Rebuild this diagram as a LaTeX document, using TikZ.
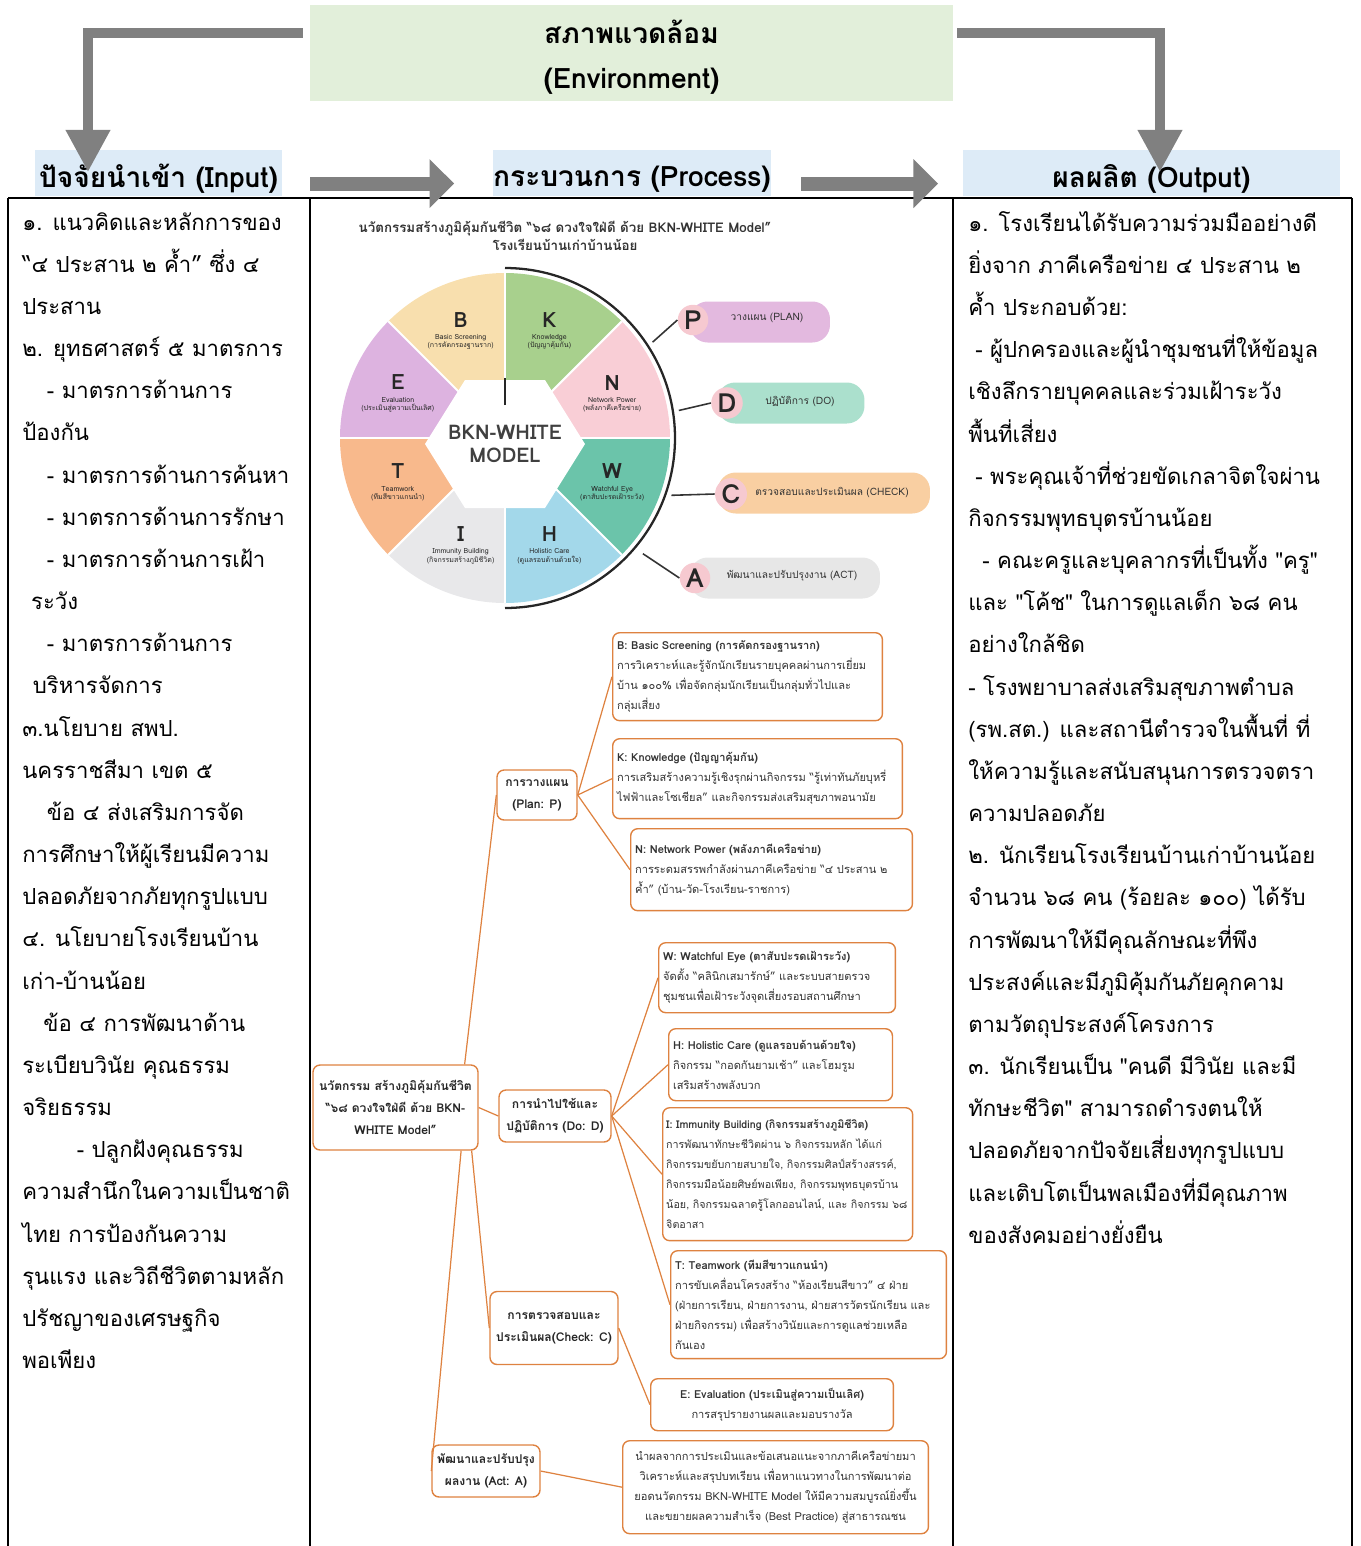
\documentclass[tikz,border=0pt]{standalone}
\usepackage{fontspec}
\setmainfont{Loma}[Script=Thai,Ligatures=TeXOff]
\usetikzlibrary{arrows.meta,calc}

\definecolor{envgreen}{HTML}{E2EFDA}
\definecolor{headblue}{HTML}{DDEBF7}
\definecolor{flowgray}{HTML}{808080}
\definecolor{maporange}{HTML}{DE8240}
\definecolor{segB}{HTML}{F8DFAE}
\definecolor{segK}{HTML}{A8D08D}
\definecolor{segN}{HTML}{F9CED6}
\definecolor{segW}{HTML}{6BC4AA}
\definecolor{segH}{HTML}{A3D8EA}
\definecolor{segI}{HTML}{E8E8EA}
\definecolor{segT}{HTML}{F8B98C}
\definecolor{segE}{HTML}{DDB3E0}
\definecolor{pillP}{HTML}{E3B9DF}
\definecolor{pillD}{HTML}{ABE0CD}
\definecolor{pillC}{HTML}{F9CFA2}
\definecolor{pillA}{HTML}{E7E7E7}
\definecolor{dotpink}{HTML}{F6C9D0}

\newcommand{\lowered}[1]{\raisebox{-3.5pt}[\height][\depth]{#1}}

\begin{document}
\begin{tikzpicture}[x=0.02cm,y=-0.02cm,
  bigarrow/.style={flowgray,line width=5.7pt,-{Triangle[length=24pt,width=24pt]}},
  flowarrow/.style={flowgray,line width=8pt,-{Triangle[length=14pt,width=27pt]}},
  headbox/.style={fill=headblue,inner sep=0pt,minimum height=0.92cm,font=\fontsize{16}{18}\selectfont\bfseries},
  coltext/.style={anchor=north west,align=left,inner sep=0pt,font=\fontsize{12.6}{24}\selectfont},
  mapbox/.style={draw=maporange,line width=0.8pt,rounded corners=4pt,fill=white,anchor=north west,align=left,inner xsep=2.5pt,inner ysep=3pt,font=\fontsize{6.3}{11.4}\selectfont,text=black!80},
  branch/.style={draw=maporange,line width=0.8pt,rounded corners=4pt,fill=white,align=center,inner sep=2pt,font=\fontsize{6.9}{12.5}\selectfont\bfseries,text=black!85},
  mapedge/.style={maporange,line width=0.7pt},
  pill/.style={rounded corners=10pt,minimum height=0.82cm,inner sep=0pt},
  pdca/.style={circle,fill=dotpink,inner sep=1pt,minimum size=0.5cm,font=\fontsize{15}{15}\selectfont\bfseries,text=black!85},
  pilltext/.style={inner sep=0pt,font=\fontsize{5.8}{7}\selectfont,text=black!80},
  segtext/.style={align=center,inner sep=0pt,font=\fontsize{4}{4.6}\selectfont,text=black!85}
]

\useasboundingbox (0,0) rectangle (1360,1546);

% Environment
\node[fill=envgreen,minimum width=12.86cm,minimum height=1.92cm] (env) at (631.5,53) {};
\node[align=center,font=\fontsize{16}{25.5}\selectfont\bfseries] (envtext) at ([yshift=-2.5pt]env.center) {สภาพแวดล้อม\\(Environment)};

% Headers
\node[headbox,minimum width=4.94cm] (inhead) at (158.5,173) {\lowered{ปัจจัยนำเข้า (Input)}};
\node[headbox,minimum width=5.52cm] (prochead) at (632,173) {\lowered{กระบวนการ (Process)}};
\node[headbox,minimum width=7.54cm] (outhead) at (1151.5,173) {\lowered{ผลผลิต (Output)}};

% Column frames
\draw[line width=1.5pt] (8,198) -- (1352,198);
\foreach \x in {8,310,953,1352} \draw[line width=1.5pt] (\x,198) -- (\x,1546);

% Arrows from environment
\coordinate (inT) at (88,172);
\coordinate (outT) at (1160,172);
\draw[bigarrow] ($(env.north west)+(-7,28)$) -| (inT);
\draw[bigarrow] ($(env.north east)+(4,28)$) -| (outT);

% Flow arrows
\draw[flowarrow] ([xshift=16pt,yshift=-6pt]inhead.east) -- ([xshift=-22pt,yshift=-6pt]prochead.west);
\draw[flowarrow] ([xshift=17pt,yshift=-6pt]prochead.east) -- ([xshift=-14pt,yshift=-6pt]outhead.west);

% Input column
\node[coltext] (intext) at (22,212) {%
๑. แนวคิดและหลักการของ\\
“๔ ประสาน ๒ ค้ำ” ซึ่ง ๔\\
ประสาน\\
๒. ยุทธศาสตร์ ๕ มาตรการ\\
\hspace*{14pt}- มาตรการด้านการ\\
ป้องกัน\\
\hspace*{14pt}- มาตรการด้านการค้นหา\\
\hspace*{14pt}- มาตรการด้านการรักษา\\
\hspace*{14pt}- มาตรการด้านการเฝ้า\\
\hspace*{5pt}ระวัง\\
\hspace*{14pt}- มาตรการด้านการ\\
\hspace*{6pt}บริหารจัดการ\\
๓.นโยบาย สพป.\\
นครราชสีมา เขต ๕\\
\hspace*{14pt}ข้อ ๔ ส่งเสริมการจัด\\
การศึกษาให้ผู้เรียนมีความ\\
ปลอดภัยจากภัยทุกรูปแบบ\\
๔. นโยบายโรงเรียนบ้าน\\
เก่า-บ้านน้อย\\
\hspace*{12pt}ข้อ ๔ การพัฒนาด้าน\\
ระเบียบวินัย คุณธรรม\\
จริยธรรม\\
\hspace*{31pt}- ปลูกฝังคุณธรรม\\
ความสำนึกในความเป็นชาติ\\
ไทย การป้องกันความ\\
รุนแรง และวิถีชีวิตตามหลัก\\
ปรัชญาของเศรษฐกิจ\\
พอเพียง};

% Output column
\node[coltext] (outtext) at (968,211) {%
๑. โรงเรียนได้รับความร่วมมืออย่างดี\\
ยิ่งจาก ภาคีเครือข่าย ๔ ประสาน ๒\\
ค้ำ ประกอบด้วย:\\
\hspace*{4pt}- ผู้ปกครองและผู้นำชุมชนที่ให้ข้อมูล\\
เชิงลึกรายบุคคลและร่วมเฝ้าระวัง\\
พื้นที่เสี่ยง\\
\hspace*{4pt}- พระคุณเจ้าที่ช่วยขัดเกลาจิตใจผ่าน\\
กิจกรรมพุทธบุตรบ้านน้อย\\
\hspace*{8pt}- คณะครูและบุคลากรที่เป็นทั้ง "ครู"\\
และ "โค้ช" ในการดูแลเด็ก ๖๘ คน\\
อย่างใกล้ชิด\\
- โรงพยาบาลส่งเสริมสุขภาพตำบล\\
(รพ.สต.) และสถานีตำรวจในพื้นที่ ที่\\
ให้ความรู้และสนับสนุนการตรวจตรา\\
ความปลอดภัย\\
๒. นักเรียนโรงเรียนบ้านเก่าบ้านน้อย\\
จำนวน ๖๘ คน (ร้อยละ ๑๐๐) ได้รับ\\
การพัฒนาให้มีคุณลักษณะที่พึง\\
ประสงค์และมีภูมิคุ้มกันภัยคุกคาม\\
ตามวัตถุประสงค์โครงการ\\
๓. นักเรียนเป็น "คนดี มีวินัย และมี\\
ทักษะชีวิต" สามารถดำรงตนให้\\
ปลอดภัยจากปัจจัยเสี่ยงทุกรูปแบบ\\
และเติบโตเป็นพลเมืองที่มีคุณภาพ\\
ของสังคมอย่างยั่งยืน};

% BKN-WHITE wheel
\begin{scope}[shift={(505,438)},y=0.02cm]
  \node[font=\fontsize{7.6}{10}\selectfont\bfseries,text=black!80,align=center] (wtitle) at (60,202) {นวัตกรรมสร้างภูมิคุ้มกันชีวิต “๖๘ ดวงใจใฝ่ดี ด้วย BKN-WHITE Model”\\โรงเรียนบ้านเก่าบ้านน้อย};
  \foreach \a/\c in {0/segN,45/segK,90/segB,135/segE,180/segT,225/segI,270/segH,315/segW}
    \fill[\c] (0,0) -- (\a:165) arc[start angle=\a,end angle=\a+45,radius=165] -- cycle;
  \foreach \a in {0,45,...,315} \draw[white,line width=1.2pt] (0,0) -- (\a:165);
  \fill[white] (80,-6) -- (40,58) -- (-40,58) -- (-80,-6) -- (-40,-70) -- (40,-70) -- cycle;
  \draw[black!85,line width=0.9pt] (0,33) -- (0,60);
  \node[font=\fontsize{11.5}{13}\selectfont\bfseries,text=black!75,align=center] (model) at (0,-6) {BKN-WHITE\\MODEL};
  \draw[black!85,line width=1.3pt] (90:170) arc[start angle=90,end angle=-90,radius=170];
  \foreach \a/\l/\s in {22.5/N/{Network Power\\(พลังภาคีเครือข่าย)},67.5/K/{Knowledge\\(ปัญญาคุ้มกัน)},
      112.5/B/{Basic Screening\\(การคัดกรองฐานราก)},157.5/E/{Evaluation\\(ประเมินสู่ความเป็นเลิศ)},
      202.5/T/{Teamwork\\(ทีมสีขาวแกนนำ)},247.5/I/{Immunity Building\\(กิจกรรมสร้างภูมิชีวิต)},
      292.5/H/{Holistic Care\\(ดูแลรอบด้านด้วยใจ)},337.5/W/{Watchful Eye\\(ตาสับปะรดเฝ้าระวัง)}}
    \node[segtext] at (\a:116) {{\fontsize{12}{13}\selectfont\bfseries \l}\\[2.5pt] \s};
  % PDCA
  \node[pill,fill=pillP,minimum width=2.8cm] (pP) at (255,116) {};
  \node[pill,fill=pillD,minimum width=2.94cm] (pD) at (286,35) {};
  \node[pill,fill=pillC,minimum width=4.24cm] (pC) at (319,-55) {};
  \node[pill,fill=pillA,minimum width=3.8cm] (pA) at (280,-140) {};
  \node[pdca] (P) at (188,118) {P};
  \node[pdca] (D) at (222,35) {D};
  \node[pdca] (C) at (226,-56) {C};
  \node[pdca] (A) at (190,-140) {A};
  \node[pilltext] at (262,120) {วางแผน (PLAN)};
  \node[pilltext] at (295,37) {ปฏิบัติการ (DO)};
  \node[pilltext] at (327,-54) {ตรวจสอบและประเมินผล (CHECK)};
  \node[pilltext] at (287,-138) {พัฒนาและปรับปรุงงาน (ACT)};
  \coordinate (aP) at (33:176);
  \coordinate (aD) at (9:176);
  \coordinate (aC) at (-19:176);
  \coordinate (aA) at (-40:180);
  \draw[black!80,line width=0.9pt] (aP) -- (P.west);
  \draw[black!80,line width=0.9pt] (aD) -- (D.west);
  \draw[black!80,line width=0.9pt] (aC) -- (C.west);
  \draw[black!80,line width=0.9pt] (aA) -- (A.west);
\end{scope}

% Mind map
\node[branch,minimum width=3.3cm,minimum height=1.7cm] (root) at (395.5,1107.5) {นวัตกรรม สร้างภูมิคุ้มกันชีวิต\\“๖๘ ดวงใจใฝ่ดี ด้วย BKN-\\WHITE Model”};
\node[branch,minimum width=1.6cm,minimum height=1.0cm] (plan) at (537,795) {การวางแผน\\(Plan: P)};
\node[branch,minimum width=2.24cm,minimum height=1.04cm] (do) at (555,1116) {การนำไปใช้และ\\ปฏิบัติการ (Do: D)};
\node[branch,minimum width=2.56cm,minimum height=1.46cm] (check) at (554,1328) {การตรวจสอบและ\\ประเมินผล(Check: C)};
\node[branch,minimum width=2.16cm,minimum height=1.04cm] (act) at (486,1471) {พัฒนาและปรับปรุง\\ผลงาน (Act: A)};

\node[mapbox,text width=5.22cm,minimum height=1.76cm] (mB) at (612,632) {\textbf{B: Basic Screening (การคัดกรองฐานราก)}\\
การวิเคราะห์และรู้จักนักเรียนรายบุคคลผ่านการเยี่ยม\\
บ้าน ๑๐๐\% เพื่อจัดกลุ่มนักเรียนเป็นกลุ่มทั่วไปและ\\
กลุ่มเสี่ยง};
\node[mapbox,text width=5.62cm,minimum height=1.6cm] (mK) at (612,738) {\textbf{K: Knowledge (ปัญญาคุ้มกัน)}\\
การเสริมสร้างความรู้เชิงรุกผ่านกิจกรรม “รู้เท่าทันภัยบุหรี่\\
ไฟฟ้าและโซเชียล” และกิจกรรมส่งเสริมสุขภาพอนามัย};
\node[mapbox,text width=5.46cm,minimum height=1.64cm] (mN) at (630,828) {\textbf{N: Network Power (พลังภาคีเครือข่าย)}\\
การระดมสรรพกำลังผ่านภาคีเครือข่าย “๔ ประสาน ๒\\
ค้ำ” (บ้าน-วัด-โรงเรียน-ราชการ)};
\node[mapbox,text width=4.56cm,minimum height=1.4cm] (mW) at (658,942) {\textbf{W: Watchful Eye (ตาสับปะรดเฝ้าระวัง)}\\
จัดตั้ง “คลินิกเสมารักษ์” และระบบสายตรวจ\\
ชุมชนเพื่อเฝ้าระวังจุดเสี่ยงรอบสถานศึกษา};
\node[mapbox,text width=4.30cm,minimum height=1.44cm] (mH) at (668,1028) {\textbf{H: Holistic Care (ดูแลรอบด้านด้วยใจ)}\\
กิจกรรม “กอดกันยามเช้า” และโฮมรูม\\
เสริมสร้างพลังบวก};
\node[mapbox,inner xsep=2pt,text width=4.86cm,minimum height=2.66cm,font=\fontsize{6.1}{11.4}\selectfont] (mI) at (662,1107) {\textbf{I: Immunity Building (กิจกรรมสร้างภูมิชีวิต)}\\
การพัฒนาทักษะชีวิตผ่าน ๖ กิจกรรมหลัก ได้แก่\\
กิจกรรมขยับกายสบายใจ, กิจกรรมศิลป์สร้างสรรค์,\\
กิจกรรมมือน้อยศิษย์พอเพียง, กิจกรรมพุทธบุตรบ้าน\\
น้อย, กิจกรรมฉลาดรู้โลกออนไลน์, และ กิจกรรม ๖๘\\
จิตอาสา};
\node[mapbox,text width=5.34cm,minimum height=2.16cm] (mT) at (670,1250) {\textbf{T: Teamwork (ทีมสีขาวแกนนำ)}\\
การขับเคลื่อนโครงสร้าง “ห้องเรียนสีขาว” ๔ ฝ่าย\\
(ฝ่ายการเรียน, ฝ่ายการงาน, ฝ่ายสารวัตรนักเรียน และ\\
ฝ่ายกิจกรรม) เพื่อสร้างวินัยและการดูแลช่วยเหลือ\\
กันเอง};
\node[mapbox,align=center,text width=4.68cm,minimum height=1.04cm] (mE) at (650,1378) {\textbf{E: Evaluation (ประเมินสู่ความเป็นเลิศ)}\\
การสรุปรายงานผลและมอบรางวัล};
\node[mapbox,align=center,text width=5.94cm,minimum height=1.86cm] (mA) at (622,1440) {นำผลจากการประเมินและข้อเสนอแนะจากภาคีเครือข่ายมา\\
วิเคราะห์และสรุปบทเรียน เพื่อหาแนวทางในการพัฒนาต่อ\\
ยอดนวัตกรรม BKN-WHITE Model ให้มีความสมบูรณ์ยิ่งขึ้น\\
และขยายผลความสำเร็จ (Best Practice) สู่สาธารณชน};

% Mind map connectors
\draw[mapedge] ([xshift=-8pt]root.north east) -- (plan.west);
\draw[mapedge] (root.east) -- (do.west);
\draw[mapedge] ([xshift=-4pt]root.south east) -- (check.west);
\draw[mapedge] ([xshift=-10pt]root.south east) -- (act.west);
\foreach \m in {mB,mK,mN} \draw[mapedge] (plan.east) -- (\m.west);
\foreach \m in {mW,mH,mI,mT} \draw[mapedge] (do.east) -- (\m.west);
\draw[mapedge] (check.east) -- (mE.west);
\draw[mapedge] (act.east) -- (mA.west);

\end{tikzpicture}
\end{document}
